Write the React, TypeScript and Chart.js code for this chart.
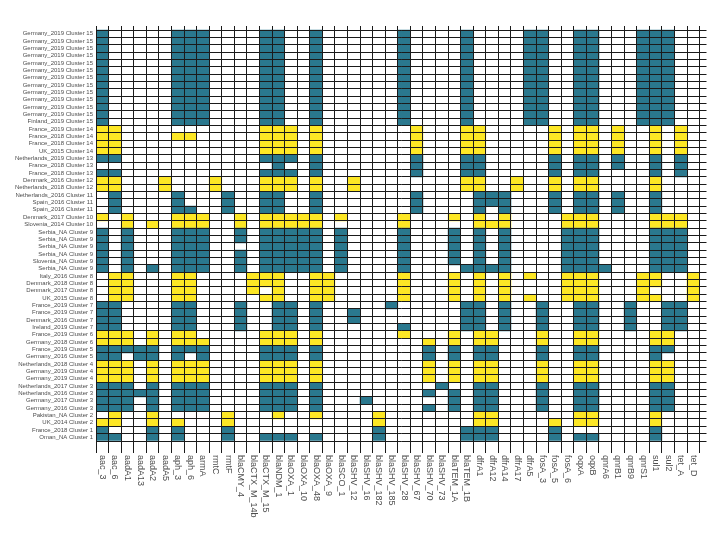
import React, { useEffect, useRef } from "react";
import { Chart, registerables } from "chart.js";

Chart.register(...registerables);

const genes: string[] = [
  "aac_3", "aac_6", "aadA1", "aadA13", "aadA2", "aadA5", "aph_3", "aph_6", "armA", "rmtC",
  "rmtF", "blaCMY_4", "blaCTX_M_14b", "blaCTX_M_15", "blaNDM_1", "blaOXA_1", "blaOXA_10",
  "blaOXA_48", "blaOXA_9", "blaSCO_1", "blaSHV_12", "blaSHV_16", "blaSHV_182", "blaSHV_185",
  "blaSHV_28", "blaSHV_67", "blaSHV_70", "blaSHV_73", "blaTEM_1A", "blaTEM_1B", "dfrA1",
  "dfrA12", "dfrA14", "dfrA17", "dfrA5", "fosA_3", "fosA_5", "fosA_6", "oqxA", "oqxB",
  "qnrA6", "qnrB1", "qnrB9", "qnrS1", "sul1", "sul2", "tet_A", "tet_D",
];

const rowLabels: string[] = [
  "Germany_2019 Cluster 15", "Germany_2019 Cluster 15", "Germany_2019 Cluster 15",
  "Germany_2019 Cluster 15", "Germany_2019 Cluster 15", "Germany_2019 Cluster 15",
  "Germany_2019 Cluster 15", "Germany_2019 Cluster 15", "Germany_2019 Cluster 15",
  "Germany_2019 Cluster 15", "Germany_2019 Cluster 15", "Germany_2019 Cluster 15",
  "Finland_2019 Cluster 15",
  "France_2019 Cluster 14", "France_2018 Cluster 14", "France_2018 Cluster 14", "UK_2015 Cluster 14",
  "Netherlands_2019 Cluster 13", "France_2018 Cluster 13", "France_2018 Cluster 13",
  "Denmark_2016 Cluster 12", "Netherlands_2018 Cluster 12",
  "Netherlands_2016 Cluster 11", "Spain_2016 Cluster 11", "Spain_2016 Cluster 11",
  "Denmark_2017 Cluster 10", "Slovenia_2014 Cluster 10",
  "Serbia_NA Cluster 9", "Serbia_NA Cluster 9", "Serbia_NA Cluster 9", "Serbia_NA Cluster 9",
  "Slovenia_NA Cluster 9", "Serbia_NA Cluster 9",
  "Italy_2016 Cluster 8", "Denmark_2018 Cluster 8", "Denmark_2017 Cluster 8", "UK_2015 Cluster 8",
  "France_2019 Cluster 7", "France_2019 Cluster 7", "Denmark_2016 Cluster 7", "Ireland_2019 Cluster 7",
  "France_2019 Cluster 6", "Germany_2018 Cluster 6",
  "France_2019 Cluster 5", "Germany_2016 Cluster 5",
  "Netherlands_2018 Cluster 4", "Germany_2019 Cluster 4", "Germany_2019 Cluster 4",
  "Netherlands_2017 Cluster 3", "Netherlands_2016 Cluster 3", "Germany_2017 Cluster 3", "Germany_2016 Cluster 3",
  "Pakistan_NA Cluster 2", "UK_2014 Cluster 2",
  "France_2018 Cluster 1", "Oman_NA Cluster 1",
];

const rowClusters: number[] = [
  15, 15, 15, 15, 15, 15, 15, 15, 15, 15, 15, 15, 15,
  14, 14, 14, 14,
  13, 13, 13,
  12, 12,
  11, 11, 11,
  10, 10,
  9, 9, 9, 9, 9, 9,
  8, 8, 8, 8,
  7, 7, 7, 7,
  6, 6,
  5, 5,
  4, 4, 4,
  3, 3, 3, 3,
  2, 2,
  1, 1,
];

// indices into `genes` of the genes present in each row (top to bottom)
const c15 = [0, 6, 7, 8, 13, 14, 17, 24, 29, 34, 35, 38, 39, 43, 44, 45];
const c14 = [0, 1, 13, 14, 15, 17, 25, 29, 30, 36, 38, 39, 41, 44, 46];
const c12 = [0, 1, 5, 9, 13, 14, 15, 17, 20, 29, 30, 33, 36, 38, 39, 44];
const c11 = [1, 6, 10, 13, 14, 17, 25, 30, 31, 32, 36, 38, 39, 41, 44];
const c9 = [0, 2, 6, 7, 8, 11, 13, 14, 15, 16, 17, 19, 24, 28, 30, 32, 37, 38, 39, 44, 45, 46];
const c4 = [0, 1, 2, 4, 6, 7, 8, 13, 14, 15, 17, 26, 28, 30, 31, 35, 38, 39, 44, 45];

const presentGenes: number[][] = [
  c15, c15, c15, c15, c15, c15, c15, c15, c15, c15, c15, c15, c15,
  c14,
  [0, 1, 6, 7, 13, 14, 15, 17, 25, 29, 30, 36, 38, 39, 41, 44, 46],
  c14,
  c14,
  [0, 1, 13, 14, 15, 17, 25, 29, 30, 36, 38, 39, 41, 44, 46],
  [14, 17, 25, 29, 30, 36, 38, 39, 41, 44, 46],
  [0, 1, 13, 14, 15, 17, 25, 29, 30, 36, 38, 39, 44, 46],
  c12,
  c12,
  c11,
  c11,
  [1, 6, 7, 10, 13, 14, 17, 25, 30, 32, 36, 38, 39, 41, 44],
  [0, 2, 6, 7, 8, 11, 13, 14, 15, 16, 17, 19, 24, 28, 30, 32, 37, 38, 39, 44, 45, 46],
  [2, 4, 6, 7, 8, 11, 13, 14, 15, 16, 17, 24, 30, 31, 32, 37, 38, 39, 44, 45, 46],
  c9,
  c9,
  [0, 2, 6, 7, 8, 13, 14, 15, 16, 17, 19, 24, 28, 30, 32, 37, 38, 39, 44, 45, 46],
  c9,
  c9,
  [0, 2, 4, 6, 7, 8, 11, 13, 14, 15, 16, 17, 19, 24, 29, 30, 31, 32, 37, 38, 39, 40, 44, 45, 46],
  [1, 2, 6, 7, 12, 13, 14, 17, 18, 24, 28, 30, 32, 34, 37, 38, 39, 43, 44, 47],
  [1, 2, 6, 7, 12, 13, 14, 17, 18, 24, 28, 30, 32, 37, 38, 39, 43, 44, 47],
  [1, 2, 6, 7, 12, 14, 17, 18, 24, 28, 30, 32, 37, 38, 39, 43, 47],
  [1, 2, 6, 7, 13, 14, 17, 18, 24, 28, 30, 32, 34, 37, 38, 39, 43, 44, 47],
  [0, 1, 6, 7, 11, 14, 15, 17, 23, 29, 30, 32, 35, 38, 39, 42, 45, 46],
  [0, 1, 6, 7, 11, 14, 15, 17, 20, 29, 30, 32, 35, 38, 39, 42, 45, 46],
  [0, 1, 6, 7, 11, 14, 15, 17, 20, 29, 30, 32, 35, 38, 39, 42, 45, 46],
  [0, 1, 6, 7, 11, 14, 15, 17, 24, 29, 30, 32, 35, 38, 39, 42, 45, 46],
  [0, 1, 2, 4, 6, 7, 13, 14, 15, 17, 24, 28, 30, 31, 35, 38, 39, 44, 45],
  [0, 1, 2, 4, 6, 7, 8, 13, 14, 15, 17, 26, 28, 30, 31, 35, 38, 39, 44, 45],
  [0, 1, 2, 3, 4, 6, 7, 8, 13, 14, 15, 17, 26, 28, 30, 31, 35, 38, 39, 44, 45],
  [0, 1, 3, 4, 6, 8, 13, 14, 15, 17, 26, 28, 30, 31, 35, 38, 39, 44],
  c4,
  c4,
  c4,
  [0, 1, 2, 4, 6, 7, 8, 13, 14, 15, 17, 27, 30, 31, 35, 38, 39, 44, 45],
  [0, 1, 2, 3, 4, 6, 7, 8, 13, 14, 15, 17, 26, 28, 30, 31, 35, 38, 39, 44, 45],
  [0, 1, 2, 4, 6, 7, 8, 13, 14, 15, 17, 21, 28, 30, 31, 35, 38, 39, 44, 45],
  [0, 1, 2, 4, 6, 7, 8, 13, 14, 15, 17, 26, 28, 30, 31, 35, 38, 39, 44, 45],
  [1, 4, 10, 14, 17, 22, 30, 31, 38, 39, 44],
  [0, 1, 4, 6, 10, 22, 30, 31, 36, 38, 39, 44],
  [0, 4, 6, 10, 22, 29, 30, 31, 36, 44],
  [0, 1, 4, 6, 10, 13, 14, 15, 17, 22, 29, 30, 31, 36, 38, 39, 44],
];

const TEAL = "#2A788E";
const YELLOW = "#FDE725";
const FONT = '"Liberation Sans", Arial, Helvetica, sans-serif';

export default function App() {
  const ref = useRef<HTMLCanvasElement>(null);

  useEffect(() => {
    if (!ref.current) return;
    const nRows = rowLabels.length;
    const nCols = genes.length;
    const points: { x: number; y: [number, number] }[] = [];
    const colors: string[] = [];
    presentGenes.forEach((cols, r) => {
      cols.forEach((c) => {
        points.push({ x: c + 0.5, y: [nRows - 1 - r, nRows - r] });
        colors.push(rowClusters[r] % 2 === 1 ? TEAL : YELLOW);
      });
    });

    const xLabelPlugin = {
      id: "xLabelsDown",
      afterDraw(chart: any) {
        const { ctx } = chart;
        const xs = chart.scales.x;
        const top = chart.chartArea.bottom + 14;
        ctx.save();
        ctx.font = `9px ${FONT}`;
        ctx.fillStyle = "#4d4d4d";
        ctx.textAlign = "left";
        ctx.textBaseline = "middle";
        genes.forEach((g, i) => {
          const x = xs.getPixelForValue(i + 0.5);
          ctx.save();
          ctx.translate(x, top);
          ctx.rotate(Math.PI / 2);
          ctx.fillText(g, 0, 0);
          ctx.restore();
        });
        ctx.restore();
      },
    };

    const chart = new Chart(ref.current, {
      type: "bar",
      data: {
        datasets: [
          {
            data: points as any,
            backgroundColor: colors,
            borderWidth: 0,
            barPercentage: 1,
            categoryPercentage: 1,
          },
        ],
      },
      options: {
        animation: false,
        responsive: false,
        maintainAspectRatio: false,
        layout: { padding: { left: 0, top: 26, right: 18.5, bottom: 0 } },
        plugins: { legend: { display: false }, tooltip: { enabled: false } },
        scales: {
          x: {
            type: "linear",
            min: 0,
            max: nCols + 0.55,
            offset: false,
            afterBuildTicks: (s: any) => {
              s.ticks = Array.from({ length: nCols + 1 }, (_, i) => ({ value: i }));
            },
            ticks: { display: false },
            grid: { color: "#1a1a1a", lineWidth: 1, offset: false, drawTicks: true, tickLength: 12, z: 1 },
            border: { display: false },
            afterFit: (s: any) => {
              s.height = 92;
            },
          },
          y: {
            type: "linear",
            position: "left",
            min: 0,
            max: nRows + 0.55,
            afterBuildTicks: (s: any) => {
              s.ticks = Array.from({ length: nRows + 1 }, (_, i) => ({ value: i }));
            },
            ticks: { display: false },
            grid: { color: "#1a1a1a", lineWidth: 1, drawTicks: false, z: 1 },
            border: { display: false },
            afterFit: (s: any) => {
              s.width = 0;
            },
          },
          yl: {
            type: "linear",
            position: "left",
            min: 0,
            max: nRows + 0.55,
            afterBuildTicks: (s: any) => {
              s.ticks = Array.from({ length: nRows }, (_, i) => ({ value: i + 0.5 }));
            },
            ticks: {
              autoSkip: false,
              padding: 3,
              color: "#4d4d4d",
              font: { size: 6, family: FONT },
              callback: (_v: any, i: number) => rowLabels[nRows - 1 - i],
            },
            grid: { display: false, drawTicks: false },
            border: { display: false },
            afterFit: (s: any) => {
              s.width = 96;
            },
          },
        },
      } as any,
      plugins: [xLabelPlugin],
    });
    return () => chart.destroy();
  }, []);

  return (
    <div style={{ position: "absolute", left: 0, top: 0, width: 725, height: 533, background: "#ffffff" }}>
      <canvas ref={ref} width={725} height={533} style={{ width: 725, height: 533, display: "block" }} />
    </div>
  );
}
